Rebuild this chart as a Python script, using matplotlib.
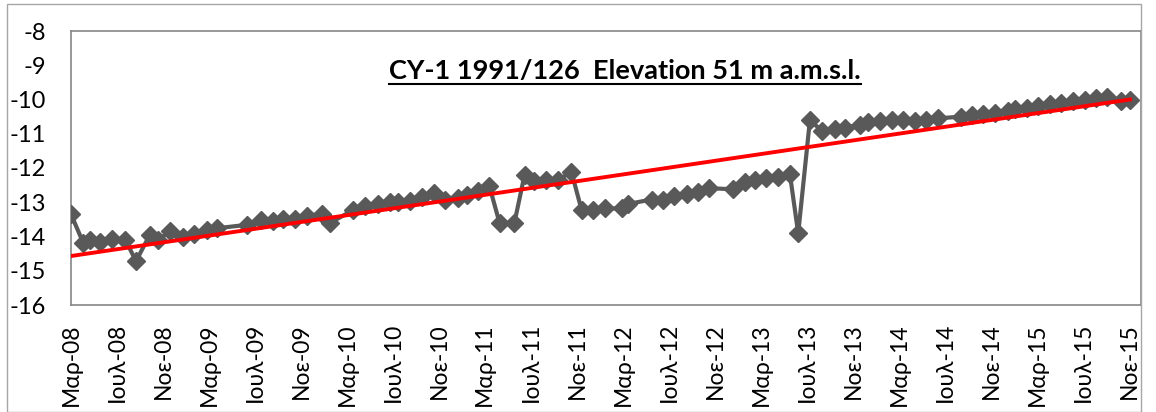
import matplotlib
matplotlib.use("Agg")
import matplotlib.pyplot as plt
import matplotlib.dates as mdates
import numpy as np
import pandas as pd
from matplotlib.patches import Rectangle
from matplotlib.lines import Line2D

plt.rcParams['font.family'] = ['Lato', 'DejaVu Sans']

title = "CY-1 1991/126  Elevation 51 m a.m.s.l."

dates = [
    "2008-03-01", "2008-04-03", "2008-04-20", "2008-05-18", "2008-06-18", "2008-07-23",
    "2008-08-20", "2008-09-25", "2008-10-18", "2008-11-18", "2008-12-23", "2009-01-20",
    "2009-02-24", "2009-03-21", "2009-06-09", "2009-07-18", "2009-08-18", "2009-09-14",
    "2009-10-15", "2009-11-15", "2009-12-25", "2010-01-16", "2010-03-17", "2010-04-17",
    "2010-05-22", "2010-06-22", "2010-07-14", "2010-08-15", "2010-09-15", "2010-10-17",
    "2010-11-16", "2010-12-20", "2011-01-12", "2011-02-12", "2011-03-13", "2011-04-09",
    "2011-05-18", "2011-06-14", "2011-07-10", "2011-08-11", "2011-09-11", "2011-10-16",
    "2011-11-12", "2011-12-12", "2012-01-13", "2012-02-26", "2012-03-14", "2012-05-15",
    "2012-06-15", "2012-07-13", "2012-08-16", "2012-09-14", "2012-10-15", "2012-12-16",
    "2013-01-16", "2013-02-14", "2013-03-15", "2013-04-15", "2013-05-16", "2013-06-07",
    "2013-07-08", "2013-08-09", "2013-09-13", "2013-10-09", "2013-11-18", "2013-12-10",
    "2014-01-10", "2014-02-10", "2014-03-11", "2014-04-11", "2014-05-12", "2014-06-12",
    "2014-08-13", "2014-09-09", "2014-10-10", "2014-11-10", "2014-12-15", "2015-01-02",
    "2015-02-03", "2015-03-03", "2015-04-04", "2015-05-04", "2015-06-04", "2015-07-05",
    "2015-08-05", "2015-09-01", "2015-10-09", "2015-11-02",
]

levels = [
    -13.35, -14.20, -14.10, -14.15, -14.08, -14.10,
    -14.72, -13.96, -14.10, -13.84, -14.02, -13.93,
    -13.81, -13.76, -13.66, -13.52, -13.54, -13.49,
    -13.49, -13.39, -13.34, -13.60, -13.23, -13.12,
    -13.05, -13.00, -13.00, -12.95, -12.86, -12.74,
    -12.93, -12.88, -12.79, -12.66, -12.53, -13.61,
    -13.61, -12.20, -12.37, -12.35, -12.35, -12.11,
    -13.23, -13.23, -13.18, -13.18, -13.05, -12.92,
    -12.92, -12.82, -12.77, -12.71, -12.59, -12.62,
    -12.40, -12.35, -12.30, -12.25, -12.17, -13.91,
    -10.60, -10.92, -10.86, -10.82, -10.73, -10.67,
    -10.62, -10.61, -10.61, -10.62, -10.60, -10.55,
    -10.50, -10.46, -10.43, -10.40, -10.34, -10.29,
    -10.24, -10.19, -10.14, -10.10, -10.05, -10.00,
    -9.97, -9.93, -10.05, -10.00,
]

# linear trendline (at first and last sample dates)
trend_values = [-14.57, -10.00]

greek_months = {3: "Μαρ", 7: "Ιουλ", 11: "Νοε"}
y_ticks = [-16, -15, -14, -13, -12, -11, -10, -9, -8]

x = pd.to_datetime(dates)
xn = mdates.date2num(x)
y = np.array(levels)

W, H = 1156, 412
fig = plt.figure(figsize=(W / 100, H / 100), dpi=100)
fig.patch.set_facecolor("white")

# outer chart frame
fig.add_artist(Rectangle((7 / W, 0), (1141 - 7) / W, (H - 4) / H, transform=fig.transFigure,
                         fill=False, edgecolor="#a6a6a6", linewidth=1.0))

ax = fig.add_axes([71 / W, 1 - 305 / H, (1141 - 71) / W, (305 - 31) / H])

ax.plot(xn, y, color="#595959", linewidth=3.0, marker="D", markersize=9,
        markerfacecolor="#595959", markeredgecolor="#595959", zorder=3)

tx = np.array([xn[0], xn[-1]])
ax.plot(tx, trend_values, color="#ff0000", linewidth=2.8, zorder=4)

ax.set_xlim(mdates.date2num(pd.Timestamp("2008-03-01")), mdates.date2num(pd.Timestamp("2015-12-01")))
ax.set_ylim(-16, -8)
ax.set_yticks(y_ticks)
ax.set_yticklabels([str(v) for v in y_ticks], fontsize=17)

ax.xaxis.set_major_locator(mdates.MonthLocator(bymonth=[3, 7, 11]))
ax.xaxis.set_major_formatter(plt.FuncFormatter(
    lambda v, p: f"{greek_months[mdates.num2date(v).month]}-{mdates.num2date(v).strftime('%y')}"))
for lab in ax.get_xticklabels():
    lab.set_rotation(90)
    lab.set_fontsize(16.5)

ax.tick_params(axis="y", length=0, pad=18)
ax.tick_params(axis="x", length=0, pad=13)
for s in ax.spines.values():
    s.set_color("#868686")
    s.set_linewidth(1.2)

t = ax.text(0.518, 0.855, title, transform=ax.transAxes, ha="center", va="center",
            fontsize=19.5, fontweight="bold", color="black")
fig.canvas.draw()
bb = t.get_window_extent().transformed(fig.transFigure.inverted())
fig.add_artist(Line2D([bb.x0, bb.x1], [bb.y0 - 1 / H, bb.y0 - 1 / H], transform=fig.transFigure,
                      color="black", linewidth=1.5))

fig.savefig("out.png", dpi=100)
